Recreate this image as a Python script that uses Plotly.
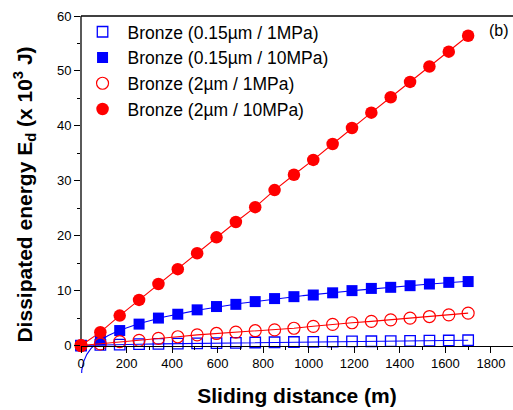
import numpy as np
import plotly.graph_objects as go

# ---- data ----
distance = [0, 85, 170, 255, 340, 425, 510, 595, 680, 765, 850,
            935, 1020, 1105, 1190, 1275, 1360, 1445, 1530, 1615, 1700]

e_015_1MPa = [0, 0.12, 0.18, 0.24, 0.3, 0.35, 0.4, 0.45, 0.5, 0.55, 0.6,
              0.64, 0.68, 0.72, 0.75, 0.78, 0.82, 0.86, 0.89, 0.92, 0.96]
e_015_10MPa = [0, 1.0, 2.73, 3.9, 5.0, 5.7, 6.5, 7.1, 7.5, 8.0, 8.55,
               8.9, 9.2, 9.6, 10.0, 10.4, 10.6, 10.9, 11.2, 11.5, 11.65]
e_2_1MPa = [0, 0.3, 0.7, 0.95, 1.3, 1.6, 1.95, 2.2, 2.45, 2.7, 2.85,
            3.15, 3.5, 3.85, 4.15, 4.4, 4.68, 4.98, 5.28, 5.59, 5.9]
e_2_10MPa = [0, 2.44, 5.46, 8.3, 11.2, 13.9, 16.8, 19.7, 22.5, 25.2, 28.3,
             31.1, 33.8, 36.7, 39.6, 42.4, 45.2, 48.0, 50.8, 53.5, 56.4]

names = ["Bronze (0.15µm / 1MPa)", "Bronze (0.15µm / 10MPa)",
         "Bronze (2µm / 1MPa)", "Bronze (2µm / 10MPa)"]

x_ticks = list(range(0, 1801, 200))
y_ticks = list(range(0, 61, 10))
y_minor = list(range(5, 60, 10))

BLUE = "#0000FF"
RED = "#FF0000"
FONT = "Arial, Liberation Sans, sans-serif"

# ---- power-law fit  y = a*x^b + c  for the 0.15µm / 10MPa series ----
xd = np.array(distance[1:], dtype=float)
yd = np.array(e_015_10MPa[1:], dtype=float)
best = None
for b in np.linspace(0.05, 1.0, 191):
    A = np.vstack([xd ** b, np.ones_like(xd)]).T
    coef, res, *_ = np.linalg.lstsq(A, yd, rcond=None)
    err = np.sum((A @ coef - yd) ** 2)
    if best is None or err < best[0]:
        best = (err, b, coef)
_, bexp, (afit, cfit) = best
xf = np.concatenate([np.linspace(0, 30, 300), np.linspace(30, max(distance), 400)])
yf = afit * xf ** bexp + cfit

fig = go.Figure()

# 0.15µm / 1MPa
fig.add_trace(go.Scatter(x=distance, y=e_015_1MPa, mode="lines",
                         line=dict(color=BLUE, width=1.1), showlegend=False))
fig.add_trace(go.Scatter(x=distance, y=e_015_1MPa, mode="markers", name=names[0],
                         marker=dict(symbol="square-open", size=10.5, color=BLUE,
                                     line=dict(width=1.3, color=BLUE)),
                         cliponaxis=False))
# 0.15µm / 10MPa
fig.add_trace(go.Scatter(x=xf, y=yf, mode="lines",
                         line=dict(color=BLUE, width=1.1), showlegend=False))
fig.add_trace(go.Scatter(x=distance, y=e_015_10MPa, mode="markers", name=names[1],
                         marker=dict(symbol="square", size=11, color=BLUE),
                         cliponaxis=False))
# 2µm / 1MPa
fig.add_trace(go.Scatter(x=distance, y=e_2_1MPa, mode="lines",
                         line=dict(color=RED, width=1.1), showlegend=False))
fig.add_trace(go.Scatter(x=distance, y=e_2_1MPa, mode="markers", name=names[2],
                         marker=dict(symbol="circle-open", size=12, color=RED,
                                     line=dict(width=1.2, color=RED)),
                         cliponaxis=False))
# 2µm / 10MPa
fig.add_trace(go.Scatter(x=distance, y=e_2_10MPa, mode="lines",
                         line=dict(color=RED, width=1.1), showlegend=False))
fig.add_trace(go.Scatter(x=distance, y=e_2_10MPa, mode="markers", name=names[3],
                         marker=dict(symbol="circle", size=12.5, color=RED),
                         cliponaxis=False))

YMIN, YMAX = -5, 60
y0_paper = (0 - YMIN) / (YMAX - YMIN)
fig.update_layout(
    width=513, height=410,
    margin=dict(l=81, r=0, t=16, b=37),
    paper_bgcolor="white", plot_bgcolor="white",
    font=dict(family=FONT, color="black"),
    showlegend=True,
    legend=dict(x=-0.008, y=1.006, xanchor="left", yanchor="top",
                bgcolor="rgba(0,0,0,0)", font=dict(size=17.5, family=FONT),
                tracegroupgap=0, itemsizing="trace", itemwidth=40),
    xaxis=dict(range=[0, 1897], anchor="free", position=y0_paper,
               tickmode="array", tickvals=x_ticks,
               ticks="outside", ticklen=6, tickwidth=1.2, tickcolor="black",
               minor=dict(dtick=100, tick0=0, ticks="outside", ticklen=3.5,
                          tickwidth=1.2, tickcolor="black"),
               showline=True, linecolor="black", linewidth=1.3,
               showgrid=False, zeroline=False,
               tickfont=dict(size=13, family=FONT),
               title=dict(text="<b>Sliding distance (m)</b>",
                          font=dict(size=21, family=FONT), standoff=18),
               automargin=False),
    yaxis=dict(range=[YMIN, YMAX], tickmode="array", tickvals=y_ticks,
               ticks="outside", ticklen=6, tickwidth=1.2, tickcolor="black",
               minor=dict(tickmode="array", tickvals=y_minor, ticks="outside",
                          ticklen=3.5, tickwidth=1.2, tickcolor="black"),
               showline=False, showgrid=False, zeroline=False,
               tickfont=dict(size=13, family=FONT),
               title=dict(text="<b>Dissipated energy E<sub>d</sub> (x 10<sup>3</sup> J)</b>",
                          font=dict(size=21, family=FONT), standoff=18),
               automargin=False),
    shapes=[
        dict(type="line", xref="paper", yref="paper", x0=0, x1=0, y0=y0_paper, y1=1,
             line=dict(color="black", width=1.3), layer="below"),
        dict(type="line", xref="paper", yref="paper", x0=0, x1=1, y0=1, y1=1,
             line=dict(color="black", width=1.3), layer="below"),
    ],
    annotations=[
        dict(text="(b)", xref="paper", yref="paper", x=0.968, y=0.958,
             showarrow=False, font=dict(size=16, family=FONT),
             xanchor="center", yanchor="middle"),
    ],
)

fig.write_html("out.html",
               config={"displayModeBar": False},
               post_script="document.body.style.margin='0';"
                           "document.body.style.overflow='hidden';")
